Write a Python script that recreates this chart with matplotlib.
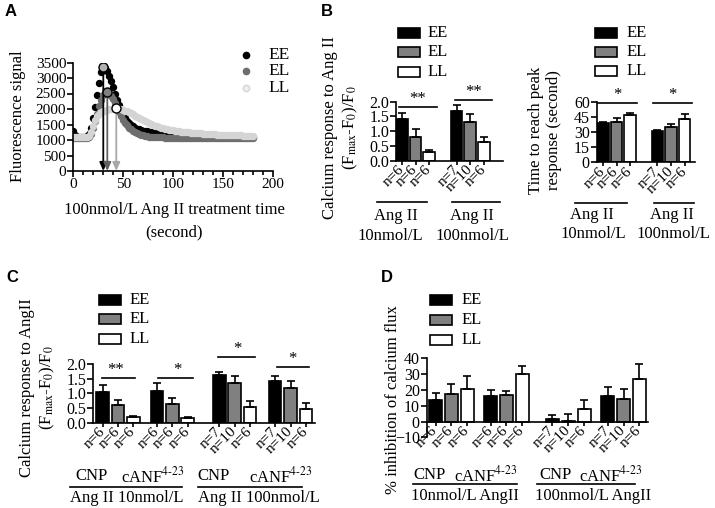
import numpy as np
import matplotlib
matplotlib.use("Agg")
import matplotlib.pyplot as plt
from matplotlib.lines import Line2D
from matplotlib.patches import Rectangle
from matplotlib.ticker import MultipleLocator

plt.rcParams['font.family'] = ['Liberation Serif', 'DejaVu Serif']
plt.rcParams['mathtext.fontset'] = 'stix'
plt.rcParams['axes.linewidth'] = 1.2

# ---------------- data ----------------
# Panel A: fluorescence traces (time in seconds)
time_s = list(range(0, 182, 2))
trace_EE = [1300, 1150, 1100, 1100, 1100, 1100, 1100, 1120, 1200, 1400,
            1700, 2050, 2450, 2850, 3200, 3350, 3320, 3220, 3080, 2900,
            2700, 2500, 2300, 2120, 1960, 1820, 1710, 1620, 1550, 1490,
            1440, 1400, 1370, 1340, 1320, 1300, 1290, 1280, 1270, 1260,
            1250, 1240, 1230, 1220, 1210, 1200, 1195, 1190, 1185, 1180,
            1175, 1170, 1165, 1160, 1155, 1150, 1148, 1145, 1142, 1140,
            1138, 1135, 1132, 1130, 1128, 1125, 1122, 1120, 1118, 1116,
            1114, 1112, 1110, 1110, 1108, 1106, 1105, 1104, 1103, 1102,
            1101, 1100, 1100, 1100, 1100, 1100, 1100, 1100, 1100, 1100, 1100]
trace_EL = [1050, 1050, 1050, 1050, 1050, 1050, 1050, 1060, 1100, 1200,
            1380, 1600, 1850, 2100, 2300, 2450, 2530, 2560, 2520, 2430,
            2320, 2190, 2050, 1910, 1780, 1660, 1560, 1470, 1400, 1340,
            1290, 1250, 1220, 1190, 1170, 1150, 1135, 1120, 1110, 1100,
            1095, 1090, 1088, 1086, 1084, 1082, 1080, 1078, 1077, 1076,
            1075, 1074, 1073, 1072, 1071, 1070, 1070, 1069, 1068, 1068,
            1067, 1066, 1066, 1065, 1065, 1064, 1064, 1063, 1063, 1062,
            1062, 1061, 1061, 1060, 1060, 1060, 1060, 1060, 1060, 1060,
            1060, 1060, 1060, 1060, 1060, 1060, 1060, 1060, 1060, 1060, 1060]
trace_LL = [1100, 1100, 1100, 1100, 1100, 1100, 1100, 1100, 1120, 1250,
            1450, 1650, 1780, 1850, 1900, 1930, 1950, 1970, 1990, 2000,
            2010, 2020, 2020, 2010, 2000, 1980, 1950, 1920, 1890, 1860,
            1830, 1790, 1750, 1710, 1670, 1630, 1600, 1570, 1540, 1510,
            1480, 1460, 1440, 1420, 1400, 1380, 1365, 1350, 1335, 1320,
            1310, 1300, 1290, 1280, 1272, 1265, 1258, 1251, 1245, 1240,
            1234, 1228, 1222, 1216, 1210, 1205, 1200, 1196, 1192, 1188,
            1184, 1180, 1176, 1172, 1168, 1165, 1162, 1160, 1158, 1156,
            1154, 1152, 1150, 1148, 1146, 1144, 1142, 1141, 1140, 1140, 1140]
peak_time = [30, 34, 43]
peak_value = [3350, 2560, 2020]
series_names = ['EE', 'EL', 'LL']

# Panel B left: calcium response (Fmax-F0)/F0
b1_groups = ['Ang II\n10nmol/L', 'Ang II\n100nmol/L']
b1_EE = [1.40, 1.69]; b1_EE_err = [0.23, 0.20]
b1_EL = [0.81, 1.30]; b1_EL_err = [0.26, 0.27]
b1_LL = [0.30, 0.63]; b1_LL_err = [0.055, 0.16]
b1_sig = ['**', '**']
# Panel B right: time to reach peak (s)
b2_EE = [39.0, 31.3]; b2_EE_err = [1.0, 0.7]
b2_EL = [40.7, 35.7]; b2_EL_err = [3.3, 2.7]
b2_LL = [47.3, 43.3]; b2_LL_err = [2.3, 4.7]
b2_sig = ['*', '*']
b_nlabels = ['n=6', 'n=6', 'n=6', 'n=7', 'n=10', 'n=6']

# Panel C: calcium response with CNP / cANF4-23
c_EE = [1.03, 1.08, 1.64, 1.42]; c_EE_err = [0.27, 0.28, 0.10, 0.17]
c_EL = [0.60, 0.64, 1.36, 1.19]; c_EL_err = [0.17, 0.19, 0.24, 0.23]
c_LL = [0.20, 0.17, 0.55, 0.47]; c_LL_err = [0.04, 0.03, 0.19, 0.19]
c_sig = ['**', '*', '*', '*']
cd_nlabels = ['n=6', 'n=6', 'n=6', 'n=6', 'n=6', 'n=6',
              'n=7', 'n=10', 'n=6', 'n=7', 'n=10', 'n=6']

# Panel D: % inhibition of calcium flux
d_EE = [13.7, 16.2, 1.3, 16.0]; d_EE_err = [4.2, 3.8, 2.9, 5.9]
d_EL = [17.3, 16.6, 0.6, 14.1]; d_EL_err = [6.5, 3.0, 4.0, 6.5]
d_LL = [20.6, 29.9, 7.8, 26.7]; d_LL_err = [8.2, 5.5, 5.9, 9.7]

# ---------------- layout helpers ----------------
W, H = 715, 508
fig = plt.figure(figsize=(W / 100, H / 100), dpi=100)

def add_ax(l, t, r, b):
    return fig.add_axes([l / W, 1 - b / H, (r - l) / W, (b - t) / H])

def ftext(x, y, s, **kw):
    fig.text(x / W, 1 - y / H, s, **kw)

def fline(x0, x1, y, lw=1.2):
    fig.add_artist(Line2D([x0 / W, x1 / W], [1 - y / H, 1 - y / H], color='k', lw=lw))

def flegend_boxes(x, ys, xlab):
    colors = ['black', '#808080', 'white']
    for yy, c, name in zip(ys, colors, series_names):
        fig.add_artist(Rectangle((x / W, 1 - (yy + 5) / H), 22 / W, 10 / H,
                                 facecolor=c, edgecolor='k', lw=1.2))
        ftext(xlab, yy, name, fontsize=12, va='center', ha='left')

TICK_FS = 11.5
BAR_COLORS = ['black', '#808080', 'white']

def style_axes(ax):
    for s in ['top', 'right']:
        ax.spines[s].set_visible(False)
    ax.tick_params(direction='out', length=4, width=1.2, labelsize=TICK_FS, pad=1)

def bar_panel(ax, gpos, series, errs, width, nlabels):
    xs_all = []
    for g in gpos:
        xs_all += [g, g + 1, g + 2]
    for k, (vals, err, col) in enumerate(zip(series, errs, BAR_COLORS)):
        xs = [g + k for g in gpos]
        ax.bar(xs, vals, width=width, color=col, edgecolor='k', linewidth=1.2, zorder=2)
        ax.errorbar(xs, vals, yerr=[np.zeros(len(vals)), err], fmt='none', ecolor='k',
                    elinewidth=1.2, capsize=3, capthick=1.2, zorder=3)
    ax.set_xticks(xs_all)
    ax.set_xticklabels(nlabels, rotation=45, ha='right', va='center',
                       rotation_mode='anchor', fontsize=11)
    ax.tick_params(axis='x', length=3, pad=2)

def sig(ax, x0, x1, y, s, xs=None):
    ax.plot([x0, x1], [y, y], color='k', lw=1.2, clip_on=False)
    xc = (x0 + x1) / 2 if xs is None else xs
    ax.annotate(s, (xc, y), xytext=(0, 0), textcoords='offset points',
                ha='center', va='bottom', fontsize=12, annotation_clip=False)

# ---------------- Panel A ----------------
axA = add_ax(73.3, 62.5, 273.3, 171)
style_axes(axA)
axA.tick_params(labelsize=11)
ptcol = ['black', '#6e6e6e', '#d4d4d4']
for tr, c in zip([trace_EE, trace_EL, trace_LL], ptcol):
    axA.plot(time_s, tr, 'o', ms=4.3, color=c, mec=c, zorder=2)
arrow_cols = ['black', '#606060', '#a8a8a8']
peak_fc = ['#b0b0b0', '#808080', 'white']
for t, v, ac, fc in zip(peak_time, peak_value, arrow_cols, peak_fc):
    axA.annotate('', xy=(t, 0), xytext=(t, v),
                 arrowprops=dict(arrowstyle='-|>,head_length=0.5,head_width=0.22',
                                 color=ac, lw=1.3, shrinkA=0, shrinkB=0), zorder=3)
    axA.plot([t], [v], 'o', ms=6.5, mfc=fc, mec='black', mew=1.0, zorder=4)
axA.set_xlim(0, 200)
axA.set_ylim(0, 3500)
axA.xaxis.set_major_locator(MultipleLocator(50))
axA.xaxis.set_minor_locator(MultipleLocator(10))
axA.yaxis.set_major_locator(MultipleLocator(500))
axA.tick_params(axis='x', which='minor', length=3, width=1.2, direction='out')
ftext(18, 116, 'Fluorescence signal', rotation=90, ha='center', va='center', fontsize=12)
ftext(174, 210, '100nmol/L Ang II treatment time', ha='center', va='center', fontsize=12)
ftext(174, 232, '(second)', ha='center', va='center', fontsize=12)
for yy, c, name, mfc in zip([55, 71, 88], ptcol, series_names, ['black', '#6e6e6e', '#f0f0f0']):
    fig.add_artist(Line2D([246 / W], [1 - yy / H], marker='o', ms=4.5, mfc=mfc,
                          mec=c, mew=1.0, ls='none'))
    ftext(268, yy, name, fontsize=12.5, va='center', ha='left')

# ---------------- Panel B left ----------------
axB1 = add_ax(396, 101.7, 503, 160.7)
style_axes(axB1)
gB = [0, 4]
bar_panel(axB1, gB, [b1_EE, b1_EL, b1_LL], [b1_EE_err, b1_EL_err, b1_LL_err], 0.85, b_nlabels)
axB1.set_xlim(-0.43, 7.39)
axB1.set_ylim(0, 2.0)
axB1.set_yticks([0, 0.5, 1.0, 1.5, 2.0])
axB1.set_yticklabels(['0.0', '0.5', '1.0', '1.5', '2.0'])
sig(axB1, -0.18, 2.54, 1.82, b1_sig[0])
sig(axB1, 3.85, 6.6, 2.07, b1_sig[1])
ftext(341, 128, 'Calcium response to Ang II\n(F$_{\\mathrm{max}}$-F$_0$)/F$_0$', rotation=90,
      ha='center', va='center', fontsize=12, multialignment='center', linespacing=1.25)
fline(377, 427, 202)
fline(452, 500, 202)
ftext(396, 216, 'Ang II', ha='center', va='center', fontsize=12)
ftext(390, 236, '10nmol/L', ha='center', va='center', fontsize=12)
ftext(472, 216, 'Ang II', ha='center', va='center', fontsize=12)
ftext(472, 236, '100nmol/L', ha='center', va='center', fontsize=12)
flegend_boxes(398, [33, 52, 72], 428)

# ---------------- Panel B right ----------------
axB2 = add_ax(596.7, 102.3, 695, 162.3)
style_axes(axB2)
bar_panel(axB2, gB, [b2_EE, b2_EL, b2_LL], [b2_EE_err, b2_EL_err, b2_LL_err], 0.85, b_nlabels)
axB2.set_xlim(-0.46, 6.76)
axB2.set_ylim(0, 60)
axB2.set_yticks([0, 15, 30, 45, 60])
sig(axB2, -0.37, 2.5, 59.3, b2_sig[0])
sig(axB2, 3.67, 6.54, 59.3, b2_sig[1])
ftext(545, 130, 'Time to reach peak\nresponse (second)', rotation=90,
      ha='center', va='center', fontsize=12, multialignment='center', linespacing=1.25)
fline(575, 627, 203)
fline(654, 694, 203)
ftext(592, 215, 'Ang II', ha='center', va='center', fontsize=12)
ftext(593, 234, '10nmol/L', ha='center', va='center', fontsize=12)
ftext(672, 215, 'Ang II', ha='center', va='center', fontsize=12)
ftext(673, 234, '100nmol/L', ha='center', va='center', fontsize=12)
flegend_boxes(595, [33, 52, 71], 627)

# ---------------- Panel C ----------------
axC = add_ax(93.3, 364, 315, 422.7)
style_axes(axC)
gC = [0, 3.56, 7.63, 11.28]
bar_panel(axC, gC, [c_EE, c_EL, c_LL], [c_EE_err, c_EL_err, c_LL_err], 0.82, cd_nlabels)
axC.set_xlim(-0.61, 13.88)
axC.set_ylim(0, 2.0)
axC.set_yticks([0, 0.5, 1.0, 1.5, 2.0])
axC.set_yticklabels(['0.0', '0.5', '1.0', '1.5', '2.0'])
sig(axC, -0.07, 2.11, 1.51, c_sig[0], 0.87)
sig(axC, 3.61, 5.9, 1.51, c_sig[1], 4.86)
sig(axC, 7.53, 9.95, 2.25, c_sig[2], 8.78)
sig(axC, 11.37, 13.5, 1.91, c_sig[3], 12.4)
ftext(38, 388, 'Calcium response to AngII\n(F$_{\\mathrm{max}}$-F$_0$)/F$_0$', rotation=90,
      ha='center', va='center', fontsize=12, multialignment='center', linespacing=1.25)
ftext(92, 476, 'CNP', ha='center', va='center', fontsize=12)
ftext(153, 476, 'cANF$^{\\mathrm{4\\text{-}23}}$', ha='center', va='center', fontsize=12)
ftext(214, 476, 'CNP', ha='center', va='center', fontsize=12)
ftext(281, 476, 'cANF$^{\\mathrm{4\\text{-}23}}$', ha='center', va='center', fontsize=12)
fline(70, 182, 487)
fline(198, 302, 487)
ftext(127, 498, 'Ang II 10nmol/L', ha='center', va='center', fontsize=12)
ftext(259, 498, 'Ang II 100nmol/L', ha='center', va='center', fontsize=12)
flegend_boxes(99, [300, 319, 339], 130)

# ---------------- Panel D ----------------
axD = add_ax(426.7, 358.3, 648, 437.3)
style_axes(axD)
axD.spines['bottom'].set_position(('data', 0))
gD = [0, 3.49, 7.4, 10.9]
bar_panel(axD, gD, [d_EE, d_EL, d_LL], [d_EE_err, d_EL_err, d_LL_err], 0.82, cd_nlabels)
axD.set_xlim(-0.56, 13.45)
axD.set_ylim(-10, 40)
axD.set_yticks([-10, 0, 10, 20, 30, 40])
ftext(393, 400, '% inhibition of calcium flux', rotation=90, ha='center', va='center', fontsize=12)
ftext(430, 475, 'CNP', ha='center', va='center', fontsize=12)
ftext(486, 475, 'cANF$^{\\mathrm{4\\text{-}23}}$', ha='center', va='center', fontsize=12)
ftext(555, 475, 'CNP', ha='center', va='center', fontsize=12)
ftext(611, 475, 'cANF$^{\\mathrm{4\\text{-}23}}$', ha='center', va='center', fontsize=12)
fline(413, 517, 484)
fline(537, 635, 484)
ftext(465, 496, '10nmol/L AngII', ha='center', va='center', fontsize=12)
ftext(593, 496, '100nmol/L AngII', ha='center', va='center', fontsize=12)
flegend_boxes(430, [300, 320, 340], 462)

# ---------------- panel letters ----------------
for x, y, s in [(5, 12, 'A'), (321, 11, 'B'), (6, 278, 'C'), (381, 278, 'D')]:
    ftext(x, y, s, fontsize=12, fontweight='bold', family='Liberation Sans', va='center', ha='left')

fig.savefig('out.png', dpi=100)
